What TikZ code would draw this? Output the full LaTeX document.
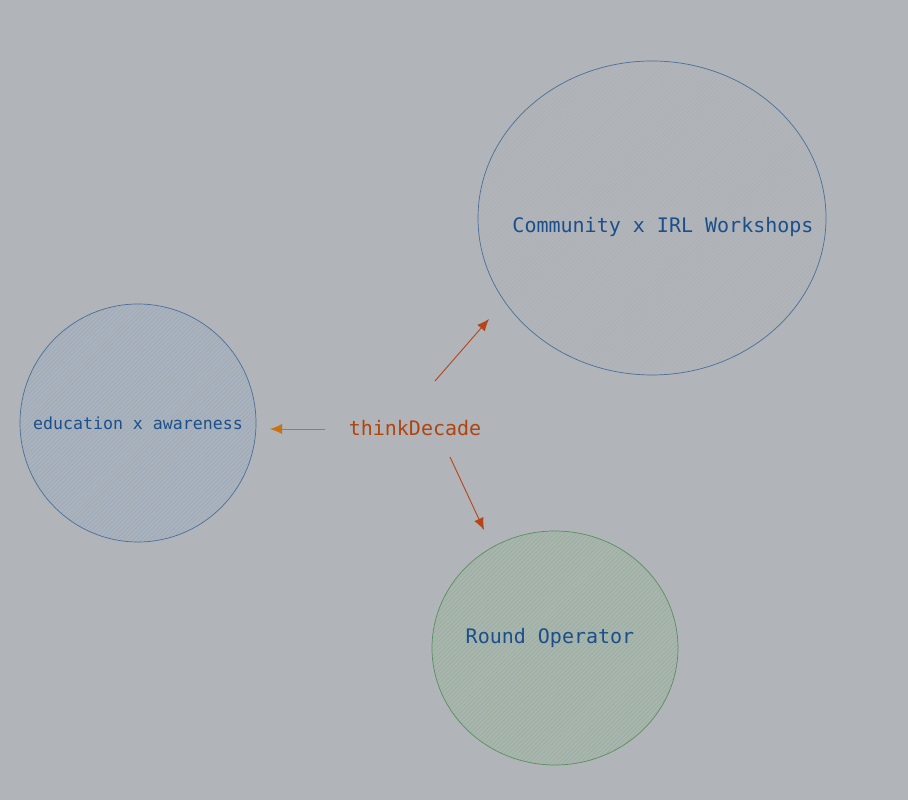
\documentclass[tikz,border=0pt]{standalone}
\usepackage{fontspec}
\setmonofont{DejaVu Sans Mono}
\usetikzlibrary{shapes.geometric,patterns.meta,arrows.meta}
\definecolor{bgcol}{HTML}{B1B4B8}
\definecolor{txtblue}{HTML}{1B4F8C}
\definecolor{lineblue}{HTML}{4A6F9A}
\definecolor{linegreen}{HTML}{5A8F5F}
\definecolor{edufill}{HTML}{AAB3BD}
\definecolor{eduhatch}{HTML}{9BA8B6}
\definecolor{roundfill}{HTML}{A8B6AD}
\definecolor{roundhatch}{HTML}{99AB9E}
\definecolor{commhatch}{HTML}{ABB0B6}
\definecolor{thinkcol}{HTML}{B0440F}
\definecolor{arrowred}{HTML}{B5451B}
\definecolor{arroworange}{HTML}{C8730F}
\tikzset{
  blob/.style={ellipse,inner sep=0pt,line width=0.7pt},
  lbl/.style={text=txtblue,font=\ttfamily\fontsize{20}{24}\selectfont},
  link/.style={line width=0.9pt,-{Latex[length=12pt,width=10pt]}}
}
\begin{document}
\begin{tikzpicture}[x=1pt,y=1pt]
	\fill[bgcol] (0,0) rectangle (908,800);
	\useasboundingbox (0,0) rectangle (908,800);
	% ellipses
	\node[blob,draw=lineblue,minimum width=348pt,minimum height=314pt,
		pattern={Lines[angle=45,distance=3pt,line width=0.4pt]},pattern color=commhatch] (comm) at (652,582) {};
	\node[blob,draw=lineblue,minimum width=236pt,minimum height=238pt,
		preaction={fill=edufill},
		pattern={Lines[angle=45,distance=3pt,line width=0.5pt]},pattern color=eduhatch] (edu) at (138,377) {};
	\node[blob,draw=linegreen,minimum width=246pt,minimum height=234pt,
		preaction={fill=roundfill},
		pattern={Lines[angle=45,distance=3pt,line width=0.5pt]},pattern color=roundhatch] (round) at (555,152) {};
	% labels
	\node[lbl] (commtxt) at (663,573) {Community x IRL Workshops};
	\node[lbl,font=\ttfamily\fontsize{16.6}{20}\selectfont] (edutxt) at (138,377) {education x awareness};
	\node[lbl] (roundtxt) at (550,162) {Round Operator};
	\node[lbl,text=thinkcol] (think) at (415,372) {thinkDecade};
	% arrows
	\coordinate (toedu0) at (325,371);
	\coordinate (toedu1) at (270,371);
	\coordinate (tocomm0) at (435,419);
	\coordinate (tocomm1) at (489,481);
	\coordinate (toround0) at (450,343);
	\coordinate (toround1) at (484,270);
	\draw[link,arroworange] (toedu0) -- (toedu1);
	\draw[link,arrowred] (tocomm0) -- (tocomm1);
	\draw[link,arrowred] (toround0) -- (toround1);
\end{tikzpicture}
\end{document}
